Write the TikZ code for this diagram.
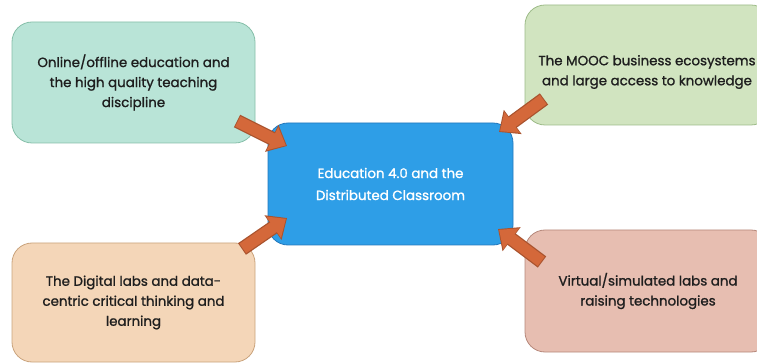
\documentclass[tikz,border=0pt]{standalone}
\usepackage{fontspec}
\setmainfont{Poppins}[FakeBold=1.2]
\usetikzlibrary{arrows.meta,calc}
\definecolor{mintF}{HTML}{B9E4D7}
\definecolor{mintD}{HTML}{86BFA9}
\definecolor{greenF}{HTML}{D1E4C0}
\definecolor{greenD}{HTML}{9DBB88}
\definecolor{peachF}{HTML}{F4D6B8}
\definecolor{peachD}{HTML}{C9A37C}
\definecolor{roseF}{HTML}{E7BEB1}
\definecolor{roseD}{HTML}{B6887B}
\definecolor{blueF}{HTML}{2E9EE7}
\definecolor{blueD}{HTML}{2378BC}
\definecolor{arrowF}{HTML}{D4683A}
\definecolor{arrowD}{HTML}{A9532E}
\definecolor{txt}{HTML}{1E1E1E}
\begin{document}
\begin{tikzpicture}[x=1pt,y=-1pt,
  box/.style={draw, line width=0.8pt, rounded corners=20pt, align=center,
    text=txt, font=\fontsize{13.4}{20}\selectfont, inner sep=0pt},
  outer/.style={draw=arrowD, line width=14pt,
    -{Triangle[width=29pt,length=17pt]}},
  inner/.style={draw=arrowF, line width=11.5pt,
    -{Triangle[width=25pt,length=15pt]}}]
\useasboundingbox (0,0) rectangle (757,363);
\node[box, fill=mintF, draw=mintD, minimum width=243pt, minimum height=121pt] (tl) at (133.5,82.5)
  {Online/offline education and\\the high quality teaching\\discipline};
\node[box, fill=greenF, draw=greenD, minimum width=246pt, minimum height=120pt] (tr) at (648,65) {};
\node[align=center, text=txt, font=\fontsize{13.4}{20}\selectfont, inner sep=0pt] (trt) at (647,72)
  {The MOOC business ecosystems\\and large access to knowledge};
\node[box, fill=peachF, draw=peachD, minimum width=243pt, minimum height=119pt] (bl) at (133.5,302.5)
  {The Digital labs and data-\\centric critical thinking and\\learning};
\node[box, fill=roseF, draw=roseD, minimum width=246pt, minimum height=122pt] (br) at (648,291)
  {Virtual/simulated labs and\\raising technologies};
\node[box, fill=blueF, draw=blueD, text=white, minimum width=245pt, minimum height=122pt,
  font=\fontsize{13.4}{22}\selectfont] (c) at (390.5,184)
  {Education 4.0 and the\\Distributed Classroom};
\coordinate (a1) at (237,121);
\coordinate (b1) at (287,146);
\coordinate (a2) at (544,99);
\coordinate (b2) at (499,132);
\coordinate (a3) at (242,249);
\coordinate (b3) at (287,218);
\coordinate (a4) at (542,262);
\coordinate (b4) at (498,229);
\foreach \a/\b in {a1/b1,a2/b2,a3/b3,a4/b4}{
  \draw[outer] (\a) -- (\b);
  \draw[inner] ($(\a)!1pt!(\b)$) -- ($(\b)!1.3pt!(\a)$);
}
\end{tikzpicture}
\end{document}
